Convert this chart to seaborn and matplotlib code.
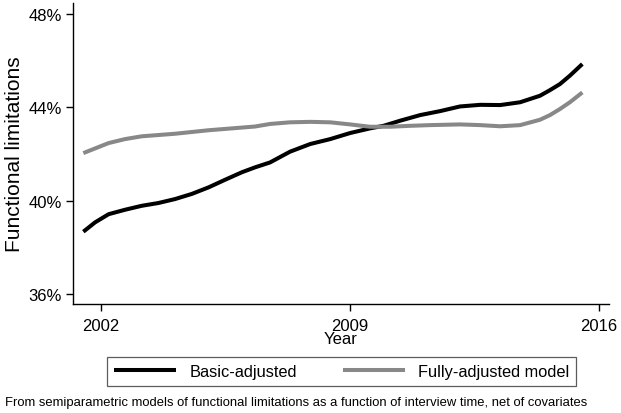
import matplotlib
matplotlib.use("Agg")
import matplotlib.pyplot as plt
import seaborn as sns
import pandas as pd
from matplotlib.ticker import FuncFormatter

# --- DATA ---
years_basic = [2001.50, 2001.83, 2002.21, 2002.67, 2003.14, 2003.61, 2004.08, 2004.55,
               2005.02, 2005.49, 2005.96, 2006.33, 2006.75, 2007.31, 2007.88, 2008.44,
               2009.00, 2009.56, 2009.94, 2010.41, 2010.97, 2011.53, 2012.09, 2012.66,
               2013.22, 2013.78, 2014.34, 2014.62, 2014.90, 2015.18, 2015.53]
basic_adjusted = [38.67, 39.07, 39.42, 39.61, 39.78, 39.90, 40.07, 40.29,
                  40.57, 40.90, 41.22, 41.43, 41.64, 42.10, 42.43, 42.64,
                  42.90, 43.10, 43.21, 43.43, 43.67, 43.84, 44.04, 44.11,
                  44.10, 44.22, 44.50, 44.74, 45.00, 45.36, 45.86]

years_full = [2001.50, 2001.83, 2002.21, 2002.67, 2003.14, 2004.08, 2005.02, 2006.33,
              2006.75, 2007.31, 2007.88, 2008.44, 2009.00, 2009.56, 2010.13, 2010.69,
              2011.25, 2012.09, 2012.66, 2013.22, 2013.78, 2014.34, 2014.62, 2014.90,
              2015.18, 2015.53]
fully_adjusted = [42.04, 42.24, 42.47, 42.64, 42.76, 42.87, 43.02, 43.18,
                  43.29, 43.36, 43.38, 43.36, 43.27, 43.17, 43.17, 43.21,
                  43.24, 43.27, 43.24, 43.19, 43.24, 43.47, 43.67, 43.93,
                  44.22, 44.64]

x_ticks = [2002, 2009, 2016]
y_ticks = [36, 40, 44, 48]
caption = ("From semiparametric models of functional limitations as a function "
           "of interview time, net of covariates")

# --- STYLE ---
sns.set_style("white")
plt.rcParams["font.family"] = ["Liberation Sans", "DejaVu Sans"]
plt.rcParams["text.color"] = "black"
plt.rcParams["axes.labelcolor"] = "black"
plt.rcParams["xtick.color"] = "black"
plt.rcParams["ytick.color"] = "black"

fig = plt.figure(figsize=(6.21, 4.14), dpi=100)
ax = fig.add_axes([0.1176, 0.2633, 0.8631, 0.7267])

df_basic = pd.DataFrame({"year": years_basic, "value": basic_adjusted})
df_full = pd.DataFrame({"year": years_full, "value": fully_adjusted})

line_kw = dict(linewidth=2.9, solid_joinstyle="round", solid_capstyle="butt")
sns.lineplot(data=df_basic, x="year", y="value", ax=ax, color="black",
             label="Basic-adjusted", **line_kw)
sns.lineplot(data=df_full, x="year", y="value", ax=ax, color="#888888",
             label="Fully-adjusted model", **line_kw)

ax.set_xlim(2001.21, 2016.28)
ax.set_ylim(35.57, 48.47)
ax.set_xticks(x_ticks)
ax.set_yticks(y_ticks)
ax.yaxis.set_major_formatter(FuncFormatter(lambda v, p: f"{v:.0f}%"))
ax.tick_params(axis="both", direction="out", length=5, width=1, color="black",
               labelsize=12, bottom=True, left=True)
ax.tick_params(axis="x", pad=5)
ax.tick_params(axis="y", pad=3)

for side in ["top", "right"]:
    ax.spines[side].set_visible(False)
for side in ["left", "bottom"]:
    ax.spines[side].set_color("black")
    ax.spines[side].set_linewidth(1)

ax.set_xlabel("Year", fontsize=12, labelpad=-1)
ax.set_ylabel("Functional limitations", fontsize=15, labelpad=3)

ax.get_legend().remove()
handles, labels = ax.get_legend_handles_labels()
leg = fig.legend(handles, labels, loc="center", ncol=2,
                 bbox_to_anchor=(341.5 / 621, 1 - 372.5 / 414),
                 fontsize=11.8, handlelength=3.8, handletextpad=0.8,
                 columnspacing=2.8, frameon=True, fancybox=False,
                 borderpad=0.4, borderaxespad=0)
leg.get_frame().set_edgecolor("#333333")
leg.get_frame().set_linewidth(0.9)

fig.text(0.008, 1 - 403 / 414, caption, fontsize=9.4, va="center", ha="left")

fig.savefig("out.png", dpi=100)
